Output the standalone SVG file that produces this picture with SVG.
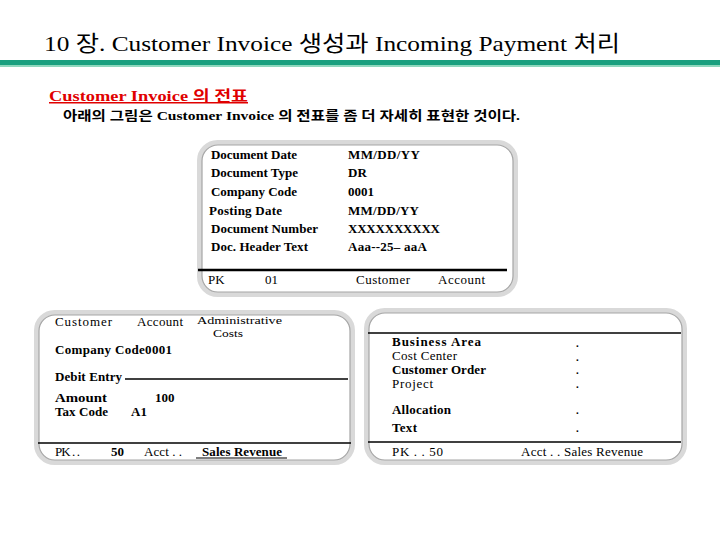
<svg xmlns="http://www.w3.org/2000/svg" width="720" height="540" viewBox="0 0 720 540">
<style>
  text { font-family: "Liberation Serif", "Noto Sans CJK KR", serif; fill: #000; }
  .title { font-size: 22px; }
  .head { font-size: 15px; font-weight: bold; fill: #e00000; text-decoration: underline; }
  .sub { font-size: 13px; font-weight: bold; }
  .b { font-size: 13px; font-weight: bold; }
  .r { font-size: 13px; }
  .s { font-size: 11px; }
  .dot { font-size: 11px; font-weight: bold; }
  .frame { fill: #fff; stroke: #d9d9d9; stroke-width: 5; }
  .frame-in { fill: none; stroke: #a6a6a6; stroke-width: 1.2; }
  .rule { stroke: #000; stroke-width: 1.5; }
  .thick { stroke: #000; stroke-width: 2.5; }
</style>

<rect width="720" height="540" fill="#fff"/>

<g id="header">
  <text class="title" x="44" y="51" textLength="576" lengthAdjust="spacingAndGlyphs">10 장. Customer Invoice 생성과 Incoming Payment 처리</text>
  <rect x="0" y="60" width="720" height="5" fill="#1aa07f"/>
  <rect x="0" y="65" width="720" height="2" fill="#8ed8bd"/>
  <text class="head" x="49" y="101" textLength="199" lengthAdjust="spacingAndGlyphs">Customer Invoice 의 전표</text>
  <text class="sub" x="63" y="120" textLength="457" lengthAdjust="spacingAndGlyphs">아래의 그림은 Customer Invoice 의 전표를 좀 더 자세히 표현한 것이다.</text>
</g>

<g id="header-box">
  <rect class="frame" x="199.5" y="142.5" width="316" height="152" rx="18"/>
  <rect class="frame-in" x="202" y="145" width="311" height="147" rx="16"/>
  <text class="b" x="211" y="159" textLength="86">Document Date</text>
  <text class="b" x="211" y="177" textLength="87">Document Type</text>
  <text class="b" x="211" y="196" textLength="86">Company Code</text>
  <text class="b" x="209" y="215" textLength="73">Posting Date</text>
  <text class="b" x="211" y="233" textLength="107">Document Number</text>
  <text class="b" x="211" y="251" textLength="97">Doc. Header Text</text>
  <text class="b" x="348" y="159" textLength="72">MM/DD/YY</text>
  <text class="b" x="348" y="177">DR</text>
  <text class="b" x="348" y="196">0001</text>
  <text class="b" x="348" y="215" textLength="71">MM/DD/YY</text>
  <text class="b" x="348" y="233" textLength="92">XXXXXXXXXX</text>
  <text class="b" x="348" y="251" textLength="79">Aaa--25– aaA</text>
  <line class="thick" x1="198" y1="270" x2="507" y2="270"/>
  <text class="r" x="208" y="284">PK</text>
  <text class="r" x="265" y="284">01</text>
  <text class="r" x="356" y="284" textLength="54">Customer</text>
  <text class="r" x="438" y="284" textLength="47">Account</text>
</g>

<g id="line-item-box">
  <rect class="frame" x="36.5" y="312.5" width="316" height="150" rx="18"/>
  <rect class="frame-in" x="39" y="315" width="311" height="145" rx="16"/>
  <text class="r" x="55" y="326" textLength="57">Customer</text>
  <text class="r" x="137" y="326" textLength="46">Account</text>
  <text class="s" x="197" y="324" textLength="85" lengthAdjust="spacingAndGlyphs">Administrative</text>
  <text class="s" x="213" y="337" textLength="30" lengthAdjust="spacingAndGlyphs">Costs</text>
  <text class="b" x="55" y="354" textLength="117">Company Code0001</text>
  <text class="b" x="55" y="381" textLength="67">Debit Entry</text>
  <line class="rule" x1="125" y1="379" x2="348" y2="379"/>
  <text class="b" x="55" y="402" textLength="52" lengthAdjust="spacingAndGlyphs">Amount</text>
  <text class="b" x="155" y="402">100</text>
  <text class="b" x="55" y="416" textLength="53">Tax Code</text>
  <text class="b" x="131" y="416">A1</text>
  <line class="rule" x1="38" y1="443" x2="351" y2="443"/>
  <text class="r" x="55" y="456" textLength="25">PK . .</text>
  <text class="b" x="111" y="456">50</text>
  <text class="r" x="144" y="456" textLength="38">Acct . .</text>
  <text class="b" x="202" y="456" textLength="80">Sales Revenue</text>
  <line stroke="#000" stroke-width="1.2" x1="196" y1="458" x2="287" y2="458"/>
</g>

<g id="assignment-box">
  <rect class="frame" x="366.5" y="310.5" width="318" height="152" rx="18"/>
  <rect class="frame-in" x="369" y="313" width="313" height="147" rx="16"/>
  <line class="rule" x1="368" y1="333" x2="681" y2="333"/>
  <text class="b" x="392" y="346" textLength="89">Business Area</text>
  <text class="r" x="392" y="360" textLength="65">Cost Center</text>
  <text class="b" x="392" y="374" textLength="94">Customer Order</text>
  <text class="r" x="392" y="388" textLength="41">Project</text>
  <text class="b" x="392" y="414" textLength="59">Allocation</text>
  <text class="b" x="392" y="432" textLength="25">Text</text>
  <text class="dot" x="576" y="347">.</text>
  <text class="dot" x="576" y="361">.</text>
  <text class="dot" x="576" y="374">.</text>
  <text class="dot" x="576" y="388">.</text>
  <text class="dot" x="576" y="414">.</text>
  <text class="dot" x="576" y="432">.</text>
  <line class="rule" x1="368" y1="442" x2="681" y2="442"/>
  <text class="r" x="392" y="456" textLength="51">PK . . 50</text>
  <text class="r" x="521" y="456" textLength="122">Acct . . Sales Revenue</text>
</g>
</svg>
